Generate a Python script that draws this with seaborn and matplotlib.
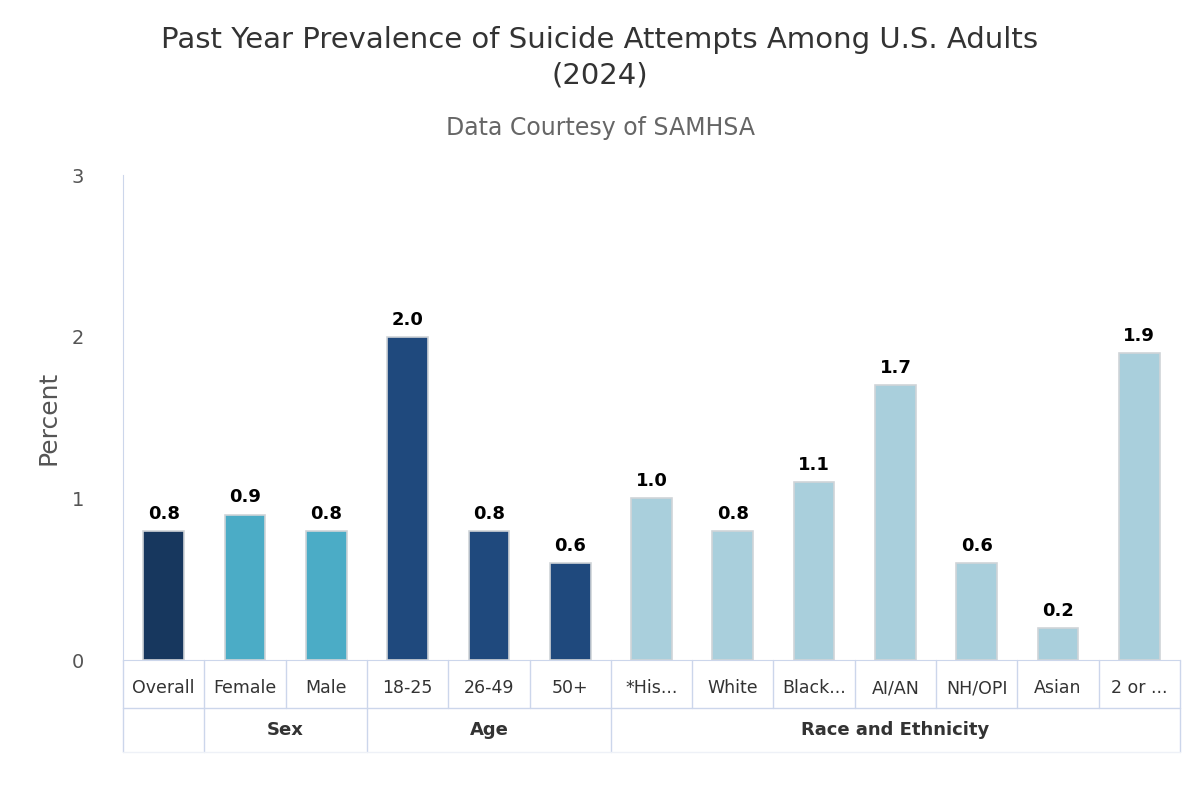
import numpy as np
import pandas as pd
import matplotlib.pyplot as plt
import seaborn as sns

categories = ["Overall", "Female", "Male", "18-25", "26-49", "50+", "*His...", "White",
              "Black...", "AI/AN", "NH/OPI", "Asian", "2 or ..."]
values = [0.8, 0.9, 0.8, 2.0, 0.8, 0.6, 1.0, 0.8, 1.1, 1.7, 0.6, 0.2, 1.9]
groups = ["", "Sex", "Sex", "Age", "Age", "Age", "Race and Ethnicity", "Race and Ethnicity",
          "Race and Ethnicity", "Race and Ethnicity", "Race and Ethnicity", "Race and Ethnicity",
          "Race and Ethnicity"]
colors = {"": "#17375e", "Sex": "#4bacc6", "Age": "#1f497d", "Race and Ethnicity": "#a9cfdc"}

df = pd.DataFrame({"cat": categories, "val": values, "grp": groups})

sns.set_style("white")
plt.rcParams['font.family'] = ['DejaVu Sans']
fig = plt.figure(figsize=(12, 8), dpi=100)
ax = fig.add_axes([0.1025, 0.175, 0.8808, 0.606])
sns.barplot(data=df, x="cat", y="val", hue="grp", palette=colors, dodge=False, saturation=1,
            width=0.5, edgecolor="#d0d4d8", linewidth=1.2, legend=False, ax=ax)
ax.set_xlim(-0.5, len(categories) - 0.5)
ax.set_ylim(0, 3)
ax.set_yticks([0, 1, 2, 3])
ax.tick_params(axis="y", labelsize=14, colors="#555555", length=0, pad=28)
ax.tick_params(axis="x", labelsize=12.5, colors="#333333", length=0, pad=14)
ax.set_xlabel("")
ax.set_ylabel("Percent", fontsize=18, color="#555555", labelpad=8)
for s in ["top", "right"]:
    ax.spines[s].set_visible(False)
ax.spines["left"].set_color("#ccd6eb")
ax.spines["bottom"].set_color("#ccd6eb")

for i, v in enumerate(values):
    ax.text(i, v + 0.05, f"{v:.1f}", ha="center", va="bottom", fontsize=13,
            fontweight="bold", color="#000000")

# grouped category table below axis
trans = ax.get_xaxis_transform()
lc = "#ccd6eb"
row1 = -48 / 485
row2 = -92 / 485
for b in np.arange(-0.5, len(categories), 1.0):
    ax.plot([b, b], [0, row1], transform=trans, color=lc, lw=1, clip_on=False)
bounds = [-0.5, 0.5, 2.5, 5.5, 12.5]
for b in bounds:
    ax.plot([b, b], [row1, row2], transform=trans, color=lc, lw=1, clip_on=False)
ax.plot([-0.5, 12.5], [row1, row1], transform=trans, color=lc, lw=1, clip_on=False)
ax.plot([-0.5, 12.5], [row2, row2], transform=trans, color="#eef1f7", lw=1, clip_on=False)
names = ["", "Sex", "Age", "Race and Ethnicity"]
for j, n in enumerate(names):
    mid = (bounds[j] + bounds[j + 1]) / 2
    ax.text(mid, (row1 + row2) / 2, n, transform=trans, ha="center", va="center",
            fontsize=13, fontweight="bold", color="#333333")

fig.text(0.5, 0.928, "Past Year Prevalence of Suicide Attempts Among U.S. Adults\n(2024)",
         ha="center", va="center", fontsize=21, color="#333333", linespacing=1.35)
fig.text(0.5, 0.84, "Data Courtesy of SAMHSA", ha="center", va="center",
         fontsize=17, color="#666666")

fig.savefig("out.png", dpi=100)
